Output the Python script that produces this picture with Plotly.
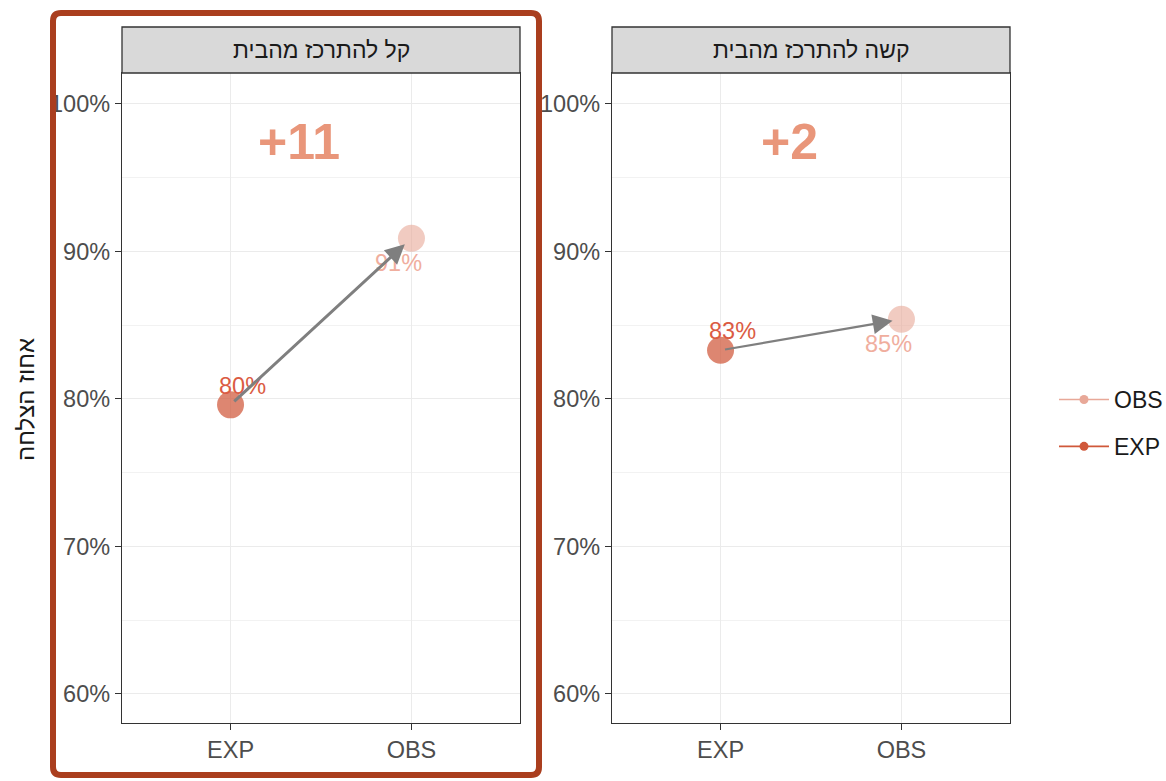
import plotly.graph_objects as go

# ---- data ----
panels = ["קל להתרכז מהבית", "קשה להתרכז מהבית"]
groups = ["EXP", "OBS"]
exp_values = [79.6, 83.3]   # percent
obs_values = [90.9, 85.4]   # percent
y_title = "אחוז הצלחה"
y_ticks = [60, 70, 80, 90, 100]
y_ticktext = ["60%", "70%", "80%", "90%", "100%"]

# ---- style ----
W, H = 1166, 781
ML, MR, MT, MB = 122, 156, 27, 58
PW = W - ML - MR
PH = H - MT - MB
strip_h = 46
plot_top = 1 - strip_h / PH
domains = [[0, 398 / PW], [490 / PW, 1]]
EXP_BASE = "#D0583A"
OBS_BASE = "#E8A898"
EXP_MARK = "rgba(208,88,58,0.72)"
OBS_MARK = "rgba(232,168,152,0.6)"
EXP_TXT = "#DB5B43"
OBS_TXT = "#F0AE9E"
DIFF_COL = "#E9967A"
FONT = "Liberation Sans, Arial, sans-serif"
TICK_FS = 23.5
arrow_widths = [3, 2.2]
arrow_sizes = [1.3, 1.8]

def px_x(p):
    return (p - ML) / PW

def px_y(p):
    return (H - MB - p) / PH

fig = go.Figure()
annotations = []
shapes = []

for i, name in enumerate(panels):
    xa = "x" if i == 0 else f"x{i+1}"
    ya = "y" if i == 0 else f"y{i+1}"
    for g, vals, mc in [("OBS", obs_values, OBS_MARK), ("EXP", exp_values, EXP_MARK)]:
        fig.add_trace(go.Scatter(
            x=[groups.index(g) + 1], y=[vals[i]], xaxis=xa, yaxis=ya,
            mode="markers", name=g, legendgroup=g, showlegend=False,
            marker=dict(size=27, color=mc),
            hoverinfo="skip",
        ))
    axx = "xaxis" if i == 0 else f"xaxis{i+1}"
    axy = "yaxis" if i == 0 else f"yaxis{i+1}"
    fig.update_layout(**{
        axx: dict(domain=domains[i], range=[0.4, 2.6], anchor=ya,
                  tickvals=[1, 2], ticktext=groups,
                  showgrid=True, gridcolor="#EBEBEB", gridwidth=1.3,
                  zeroline=False, showline=True, linecolor="#333333", linewidth=1.3,
                  mirror=True, ticks="outside", ticklen=6, tickcolor="#333333",
                  tickfont=dict(size=TICK_FS, color="#4D4D4D", family=FONT)),
        axy: dict(domain=[0, plot_top], range=[58.03, 102.1], anchor=xa,
                  tickvals=y_ticks, ticktext=y_ticktext,
                  showgrid=True, gridcolor="#EBEBEB", gridwidth=1.3,
                  minor=dict(dtick=5, tick0=55, showgrid=True, gridcolor="#F2F2F2", gridwidth=1),
                  zeroline=False, showline=True, linecolor="#333333", linewidth=1.3,
                  mirror=True, ticks="outside", ticklen=6, tickcolor="#333333",
                  tickfont=dict(size=TICK_FS, color="#4D4D4D", family=FONT)),
    })
    # strip
    shapes.append(dict(type="rect", xref="paper", yref="paper",
                       x0=domains[i][0], x1=domains[i][1], y0=plot_top, y1=1,
                       fillcolor="#D9D9D9", line=dict(color="#333333", width=1.3), layer="above"))
    annotations.append(dict(xref="paper", yref="paper", x=sum(domains[i]) / 2,
                            y=(plot_top + 1) / 2, text=name, showarrow=False,
                            font=dict(size=23, color="#1A1A1A", family=FONT),
                            xanchor="center", yanchor="middle"))
    # value labels
    annotations.append(dict(xref=xa, yref=ya, x=1, y=exp_values[i],
                            text=f"{round(exp_values[i])}%", showarrow=False,
                            xshift=12, yshift=19, font=dict(size=TICK_FS, color=EXP_TXT, family=FONT)))
    annotations.append(dict(xref=xa, yref=ya, x=2, y=obs_values[i],
                            text=f"{round(obs_values[i])}%", showarrow=False,
                            xshift=-13, yshift=-25, font=dict(size=TICK_FS, color=OBS_TXT, family=FONT)))
    # diff label
    diff = round(obs_values[i]) - round(exp_values[i])
    annotations.append(dict(xref=xa, yref=ya, x=1.38, y=97.4,
                            text=f"<b>+{diff}</b>", showarrow=False,
                            font=dict(size=50, color=DIFF_COL, family=FONT)))
    # arrow
    annotations.append(dict(xref=xa, yref=ya, x=2, y=obs_values[i],
                            axref=xa, ayref=ya, ax=1, ay=exp_values[i],
                            text="", showarrow=True, arrowhead=2,
                            arrowsize=arrow_sizes[i],
                            arrowwidth=arrow_widths[i], arrowcolor="#7F7F7F",
                            standoff=9, startstandoff=3))

# legend entries (line + point key, as in the original)
for g, col in [("OBS", OBS_BASE), ("EXP", EXP_BASE)]:
    fig.add_trace(go.Scatter(
        x=[None], y=[None], mode="lines+markers", name=g, legendgroup=g,
        marker=dict(size=9, color=col), line=dict(color=col, width=1.6),
        hoverinfo="skip",
    ))

# y-axis title
annotations.append(dict(xref="paper", yref="paper", x=px_x(25), y=px_y(400),
                        text=y_title, textangle=-90, showarrow=False,
                        font=dict(size=24, color="#1A1A1A", family=FONT),
                        xanchor="center", yanchor="middle"))

# highlight box (rounded)
x0, x1 = px_x(53), px_x(539)
y0, y1 = px_y(775), px_y(13)
rx, ry = 8 / PW, 8 / PH
path = (f"M {x0+rx},{y1} L {x1-rx},{y1} Q {x1},{y1} {x1},{y1-ry} "
        f"L {x1},{y0+ry} Q {x1},{y0} {x1-rx},{y0} L {x0+rx},{y0} "
        f"Q {x0},{y0} {x0},{y0+ry} L {x0},{y1-ry} Q {x0},{y1} {x0+rx},{y1} Z")
shapes.append(dict(type="path", xref="paper", yref="paper", path=path,
                   line=dict(color="#AA3E1E", width=6), fillcolor="rgba(0,0,0,0)", layer="above"))

fig.update_layout(
    width=W, height=H,
    margin=dict(l=ML, r=MR, t=MT, b=MB, autoexpand=False),
    paper_bgcolor="white", plot_bgcolor="white",
    font=dict(family=FONT),
    annotations=annotations, shapes=shapes,
    legend=dict(x=px_x(1054), y=px_y(423), xanchor="left", yanchor="middle",
                font=dict(size=23, color="#1A1A1A", family=FONT),
                itemwidth=50, tracegroupgap=14, traceorder="grouped",
                bgcolor="rgba(0,0,0,0)"),
    showlegend=True,
)

fig.write_html("out.html", config={"displayModeBar": False},
               post_script="document.body.style.margin='0';document.body.style.overflow='hidden';")
